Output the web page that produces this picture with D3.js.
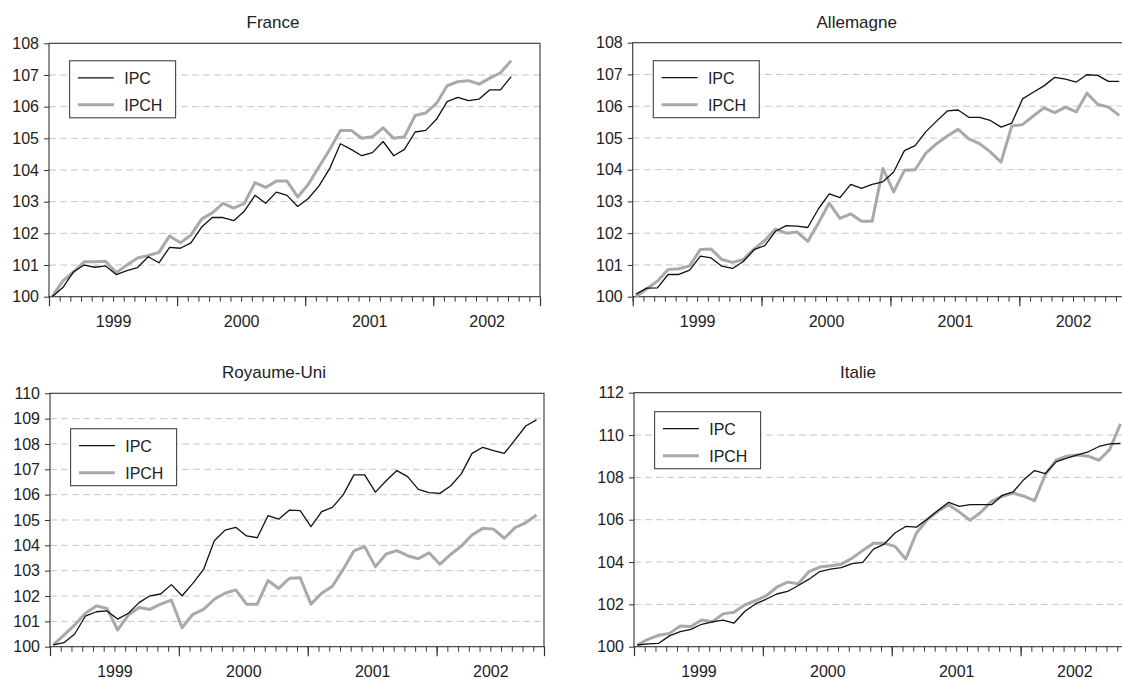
<!DOCTYPE html>
<html>
<head>
<meta charset="utf-8">
<script src="https://cdn.jsdelivr.net/npm/d3@7"></script>
<style>
  body { margin: 0; background: #fff; }
  text { font-family: "Liberation Sans", Arial, Helvetica, sans-serif; fill: #222; }
</style>
</head>
<body>
<div id="chart"></div>
<script>
const width = 1122;
const height = 679;

// ----- Data -----
const countries = ["France", "Allemagne", "Royaume-Uni", "Italie"];
const seriesNames = ["IPC", "IPCH"];
const years = ["1999", "2000", "2001", "2002"];
const monthsPerYear = [12, 12, 12, 10];

const franceIPC = [100.0, 100.29, 100.79, 101.0, 100.93, 100.97, 100.7, 100.82, 100.92, 101.26, 101.07, 101.56, 101.53,
  101.7, 102.2, 102.5, 102.5, 102.4, 102.7, 103.2, 102.95, 103.3, 103.2, 102.85, 103.1, 103.5, 104.05, 104.83,
  104.65, 104.45, 104.55, 104.9, 104.45, 104.65, 105.2, 105.25, 105.6,
  106.16, 106.29, 106.19, 106.24, 106.53, 106.53, 106.95];
const franceIPCH = [100.0, 100.5, 100.78, 101.1, 101.1, 101.12, 100.76, 101.0, 101.22, 101.3, 101.4, 101.92, 101.7,
  101.95, 102.45, 102.65, 102.95, 102.8, 102.95, 103.6, 103.45, 103.65, 103.65, 103.15, 103.55, 104.1, 104.65, 105.25,
  105.25, 105.0, 105.05, 105.33, 105.0, 105.05, 105.72, 105.8, 106.1,
  106.66, 106.79, 106.82, 106.71, 106.9, 107.07, 107.45];

const allemagneIPC = [100.08, 100.27, 100.28, 100.7, 100.7, 100.84, 101.28, 101.22, 100.96, 100.89, 101.11, 101.48,
  101.61, 102.06, 102.24, 102.22, 102.18, 102.77, 103.24, 103.12, 103.54, 103.41, 103.54, 103.62, 103.93, 104.6,
  104.76, 105.2, 105.53, 105.85, 105.88, 105.65, 105.65, 105.55, 105.34, 105.47, 106.23, 106.44, 106.64, 106.91,
  106.85, 106.76, 106.99, 106.97, 106.78, 106.78];
const allemagneIPCH = [100.0, 100.24, 100.49, 100.86, 100.88, 100.97, 101.49, 101.5, 101.17, 101.08, 101.17, 101.5,
  101.77, 102.13, 102.0, 102.04, 101.74, 102.32, 102.95, 102.47, 102.61, 102.38, 102.38, 104.04, 103.3, 103.98,
  104.0, 104.52, 104.82, 105.06, 105.27, 104.97, 104.82, 104.56, 104.24, 105.38, 105.42, 105.69, 105.95, 105.8,
  105.97, 105.82, 106.41, 106.06, 105.97, 105.71];

const ukIPC = [100.07, 100.16, 100.5, 101.21, 101.38, 101.41, 101.09, 101.32, 101.74, 102.01, 102.08, 102.45,
  102.01, 102.5, 103.05, 104.18, 104.6, 104.71, 104.37, 104.3, 105.17, 105.03, 105.39, 105.37, 104.74, 105.33,
  105.5, 105.99, 106.78, 106.78, 106.1, 106.55, 106.95, 106.71, 106.21, 106.08, 106.05, 106.34, 106.82, 107.63,
  107.87, 107.74, 107.63, 108.16, 108.71, 108.95];
const ukIPCH = [100.07, 100.46, 100.86, 101.32, 101.61, 101.51, 100.66, 101.25, 101.55, 101.47, 101.68, 101.84,
  100.75, 101.28, 101.47, 101.87, 102.11, 102.24, 101.68, 101.68, 102.61, 102.3, 102.7, 102.72, 101.68, 102.11,
  102.39, 103.05, 103.78, 103.95, 103.16, 103.66, 103.79, 103.59, 103.47, 103.71, 103.25, 103.64, 103.97, 104.41,
  104.67, 104.64, 104.28, 104.7, 104.89, 105.2];

const italieIPC = [100.08, 100.13, 100.16, 100.51, 100.71, 100.82, 101.06, 101.17, 101.26, 101.11, 101.66, 102.02,
  102.24, 102.49, 102.61, 102.89, 103.19, 103.55, 103.66, 103.74, 103.92, 103.98, 104.61, 104.85, 105.37, 105.68,
  105.65, 106.02, 106.43, 106.82, 106.63, 106.71, 106.71, 106.71, 107.15, 107.31, 107.89, 108.32, 108.18, 108.73,
  108.91, 109.06, 109.21, 109.46, 109.58, 109.6];
const italieIPCH = [100.08, 100.35, 100.54, 100.63, 100.98, 100.95, 101.26, 101.18, 101.55, 101.63, 101.97, 102.18,
  102.4, 102.81, 103.05, 102.97, 103.55, 103.76, 103.82, 103.9, 104.18, 104.55, 104.89, 104.89, 104.74, 104.14,
  105.37, 106.0, 106.4, 106.71, 106.36, 105.97, 106.35, 106.87, 107.11, 107.26, 107.11, 106.9, 108.13, 108.81,
  109.0, 109.06, 109.0, 108.81, 109.32, 110.53];

const ticks8 = [100, 101, 102, 103, 104, 105, 106, 107, 108];
const ticks10 = [100, 101, 102, 103, 104, 105, 106, 107, 108, 109, 110];
const ticks12 = [100, 102, 104, 106, 108, 110, 112];

// ----- Layout -----
const panels = [
  { name: countries[0], ipc: franceIPC, ipch: franceIPCH, ticks: ticks8, left: 49, top: 43.3, w: 491, h: 253.4, legendTop: 17.5 },
  { name: countries[1], ipc: allemagneIPC, ipch: allemagneIPCH, ticks: ticks8, left: 632.7, top: 42.7, w: 494, h: 254, legendTop: 18 },
  { name: countries[2], ipc: ukIPC, ipch: ukIPCH, ticks: ticks10, left: 50, top: 393.3, w: 494, h: 253.4, legendTop: 35.4 },
  { name: countries[3], ipc: italieIPC, ipch: italieIPCH, ticks: ticks12, left: 634, top: 392.7, w: 494, h: 254, legendTop: 19 }
];

const totalMonths = d3.sum(monthsPerYear);
const yearStarts = [0];
monthsPerYear.forEach((m, i) => yearStarts.push(yearStarts[i] + m));
const yearMids = monthsPerYear.map((m, i) => yearStarts[i] + m / 2);

const svg = d3.select("#chart")
  .append("svg")
  .attr("width", width)
  .attr("height", height);

panels.forEach(p => {
  const g = svg.append("g");
  const x = d3.scaleLinear().domain([0, totalMonths]).range([p.left, p.left + p.w]);
  const y = d3.scaleLinear().domain([p.ticks[0], p.ticks[p.ticks.length - 1]]).range([p.top + p.h, p.top]);

  // dashed gridlines
  g.append("g")
    .selectAll("line")
    .data(p.ticks.slice(1, -1))
    .join("line")
    .attr("x1", p.left)
    .attr("x2", p.left + p.w)
    .attr("y1", d => y(d))
    .attr("y2", d => y(d))
    .attr("stroke", "#c6c6c6")
    .attr("stroke-width", 1)
    .attr("stroke-dasharray", "7,4");

  // plot frame
  g.append("rect")
    .attr("x", p.left)
    .attr("y", p.top)
    .attr("width", p.w)
    .attr("height", p.h)
    .attr("fill", "none")
    .attr("stroke", "#333")
    .attr("stroke-width", 1.1);

  // y axis
  const gy = g.append("g")
    .attr("transform", `translate(${p.left},0)`)
    .call(d3.axisLeft(y).tickValues(p.ticks).tickSize(5).tickPadding(5).tickFormat(d3.format("d")));
  gy.select(".domain").remove();
  gy.selectAll("line").attr("stroke", "#333");
  gy.selectAll("text").attr("font-size", 16).attr("font-family", null);

  // x axis: month ticks, year ticks, year labels
  const base = p.top + p.h;
  const gm = g.append("g")
    .attr("transform", `translate(0,${base})`)
    .call(d3.axisBottom(x).tickValues(d3.range(totalMonths + 1)).tickSize(5).tickFormat(""));
  gm.select(".domain").remove();
  gm.selectAll("line").attr("stroke", "#333");

  const gyr = g.append("g")
    .attr("transform", `translate(0,${base})`)
    .call(d3.axisBottom(x).tickValues(yearStarts).tickSize(9.5).tickFormat(""));
  gyr.select(".domain").remove();
  gyr.selectAll("line").attr("stroke", "#333").attr("stroke-width", 1.2);

  const gl = g.append("g")
    .attr("transform", `translate(0,${base})`)
    .call(d3.axisBottom(x).tickValues(yearMids).tickSize(0).tickPadding(18.6).tickFormat((d, i) => years[i]));
  gl.select(".domain").remove();
  gl.selectAll("text").attr("font-size", 16).attr("font-family", null);

  // title
  g.append("text")
    .attr("x", p.left + 224)
    .attr("y", p.top - 15)
    .attr("text-anchor", "middle")
    .attr("font-size", 17)
    .text(p.name);

  // series
  const line = d3.line()
    .x((d, i) => x(i + 0.3))
    .y(d => y(d));

  g.append("path")
    .datum(p.ipch)
    .attr("d", line)
    .attr("fill", "none")
    .attr("stroke", "#a9a9a9")
    .attr("stroke-width", 3)
    .attr("stroke-linejoin", "round");

  g.append("path")
    .datum(p.ipc)
    .attr("d", line)
    .attr("fill", "none")
    .attr("stroke", "#111")
    .attr("stroke-width", 1.3)
    .attr("stroke-linejoin", "round");

  // legend
  const lx = p.left + 20.6;
  const ly = p.top + p.legendTop;
  const lg = g.append("g").attr("transform", `translate(${lx},${ly})`);
  lg.append("rect")
    .attr("width", 106)
    .attr("height", 57)
    .attr("fill", "#fff")
    .attr("stroke", "#444")
    .attr("stroke-width", 1.1);
  const items = lg.selectAll("g.item")
    .data(seriesNames)
    .join("g")
    .attr("class", "item")
    .attr("transform", (d, i) => `translate(0,${17 + i * 27})`);
  items.append("line")
    .attr("x1", 8.3)
    .attr("x2", 44.3)
    .attr("stroke", (d, i) => i === 0 ? "#111" : "#a9a9a9")
    .attr("stroke-width", (d, i) => i === 0 ? 1.3 : 3);
  items.append("text")
    .attr("x", 54.6)
    .attr("y", 5.8)
    .attr("font-size", 16)
    .text(d => d);
});
</script>
</body>
</html>
